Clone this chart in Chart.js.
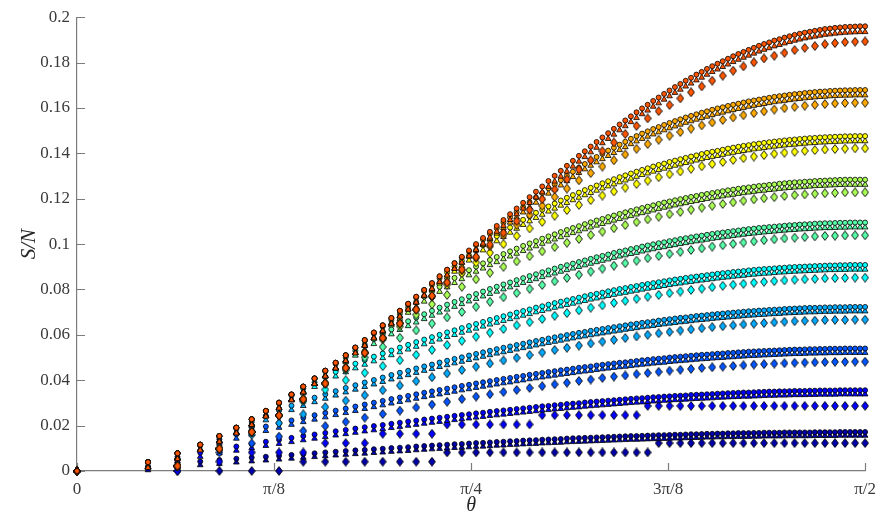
<!DOCTYPE html>
<html><head><meta charset="utf-8">
<script src="https://cdn.jsdelivr.net/npm/chart.js@4.4.1/dist/chart.umd.min.js"></script>
<style>html,body{margin:0;padding:0;background:#fff}#wrap{width:884px;height:520px}</style>
</head><body><div id="wrap"><canvas id="c" width="884" height="520"></canvas></div>
<script>
// theta grid (rad)
const theta = [0,.1415,.2003,.2456,.2838,.3176,.3482,.3764,.4027,.4275,
.4510,.4735,.4949,.5156,.5356,.5548,.5735,.5917,.6094,.6266,
.6435,.6600,.6761,.6920,.7075,.7227,.7377,.7525,.7670,.7813,
.7954,.8093,.8230,.8366,.8500,.8632,.8763,.8892,.9021,.9148,
.9273,.9397,.9521,.9643,.9764,.9884,1.0004,1.0122,1.0239,1.0356,
1.0472,1.0587,1.0701,1.0815,1.0928,1.1040,1.1152,1.1263,1.1374,1.1484,
1.1593,1.1702,1.1810,1.1918,1.2025,1.2132,1.2239,1.2345,1.2451,1.2556,
1.2661,1.2766,1.2870,1.2974,1.3078,1.3181,1.3284,1.3387,1.3490,1.3592,
1.3694,1.3796,1.3898,1.4000,1.4101,1.4202,1.4303,1.4404,1.4505,1.4606,
1.4706,1.4807,1.4907,1.5007,1.5108,1.5208,1.5308,1.5408,1.5508,1.5608,
1.5708];
const thetaEven = theta.filter((_, i) => i % 2 === 0);

const xTickValues = [0, Math.PI/8, Math.PI/4, 3*Math.PI/8, Math.PI/2];
const xTickLabels = ['0', 'π/8', 'π/4', '3π/8', 'π/2'];
const yTickValues = [0, .02, .04, .06, .08, .1, .12, .14, .16, .18, .2];
const yTickLabels = ['0', '0.02', '0.04', '0.06', '0.08', '0.1', '0.12', '0.14', '0.16', '0.18', '0.2'];
const seriesColors = ['#0000aa','#0000ff','#0055ff','#00aaff','#00ffff','#55ffaa','#aaff55','#ffff00','#ffaa00','#ff5500'];

// circles
const circles1 = [0,.0020,.0034,.0042,.0048,.0054,.0059,.0063,.0067,.0071,
.0075,.0078,.0082,.0085,.0088,.0091,.0093,.0096,.0098,.0101,
.0103,.0105,.0108,.0110,.0112,.0114,.0116,.0118,.0119,.0121,
.0123,.0124,.0126,.0128,.0129,.0131,.0132,.0134,.0135,.0136,
.0138,.0139,.0140,.0141,.0143,.0144,.0145,.0146,.0147,.0148,
.0149,.0150,.0151,.0152,.0153,.0154,.0154,.0155,.0156,.0157,
.0158,.0158,.0159,.0160,.0160,.0161,.0162,.0162,.0163,.0164,
.0164,.0165,.0165,.0166,.0166,.0167,.0167,.0167,.0168,.0168,
.0169,.0169,.0169,.0169,.0170,.0170,.0170,.0170,.0170,.0170,
.0171,.0171,.0171,.0171,.0171,.0172,.0172,.0172,.0172,.0172,
.0172];
const circles2 = [0,.0036,.0062,.0081,.0096,.0108,.0119,.0129,.0138,.0146,
.0154,.0161,.0168,.0175,.0181,.0187,.0193,.0198,.0203,.0208,
.0213,.0218,.0222,.0227,.0231,.0235,.0239,.0243,.0247,.0250,
.0254,.0257,.0261,.0264,.0267,.0270,.0273,.0276,.0279,.0282,
.0285,.0287,.0290,.0292,.0295,.0297,.0299,.0302,.0304,.0306,
.0308,.0310,.0312,.0314,.0316,.0318,.0320,.0321,.0323,.0325,
.0326,.0328,.0329,.0331,.0332,.0333,.0335,.0336,.0337,.0338,
.0339,.0341,.0342,.0343,.0344,.0345,.0346,.0346,.0347,.0348,
.0349,.0350,.0350,.0351,.0351,.0352,.0353,.0353,.0353,.0354,
.0354,.0355,.0355,.0355,.0355,.0356,.0356,.0356,.0356,.0356,
.0356];
const circles3 = [0,.0039,.0077,.0112,.0140,.0162,.0180,.0196,.0210,.0223,
.0235,.0246,.0256,.0266,.0275,.0284,.0293,.0301,.0309,.0317,
.0324,.0331,.0338,.0345,.0351,.0357,.0363,.0369,.0375,.0380,
.0386,.0391,.0396,.0401,.0406,.0410,.0415,.0419,.0424,.0428,
.0432,.0436,.0440,.0444,.0447,.0451,.0455,.0458,.0461,.0465,
.0468,.0471,.0474,.0477,.0479,.0482,.0485,.0488,.0490,.0493,
.0495,.0497,.0500,.0502,.0504,.0506,.0508,.0510,.0512,.0513,
.0515,.0517,.0518,.0520,.0521,.0523,.0524,.0526,.0527,.0528,
.0529,.0530,.0531,.0532,.0533,.0534,.0535,.0535,.0536,.0537,
.0537,.0538,.0538,.0539,.0539,.0539,.0540,.0540,.0540,.0540,
.0540];
const circles4 = [0,.0039,.0078,.0115,.0152,.0186,.0216,.0243,.0267,.0288,
.0306,.0323,.0338,.0352,.0366,.0378,.0390,.0401,.0412,.0423,
.0433,.0442,.0452,.0461,.0469,.0478,.0486,.0494,.0501,.0509,
.0516,.0523,.0530,.0537,.0543,.0549,.0555,.0561,.0567,.0573,
.0578,.0584,.0589,.0594,.0599,.0604,.0609,.0613,.0618,.0622,
.0626,.0630,.0634,.0638,.0642,.0646,.0649,.0653,.0656,.0659,
.0663,.0666,.0669,.0672,.0675,.0677,.0680,.0683,.0685,.0687,
.0690,.0692,.0694,.0696,.0698,.0700,.0702,.0704,.0705,.0707,
.0708,.0710,.0711,.0712,.0714,.0715,.0716,.0717,.0718,.0719,
.0719,.0720,.0721,.0721,.0722,.0722,.0722,.0723,.0723,.0723,
.0723];
const circles5 = [0,.0039,.0078,.0116,.0154,.0191,.0228,.0264,.0299,.0332,
.0363,.0391,.0415,.0437,.0456,.0473,.0489,.0504,.0518,.0531,
.0544,.0556,.0568,.0579,.0590,.0600,.0611,.0620,.0630,.0639,
.0648,.0657,.0666,.0674,.0682,.0690,.0698,.0705,.0712,.0720,
.0726,.0733,.0740,.0746,.0752,.0758,.0764,.0770,.0776,.0781,
.0786,.0792,.0797,.0802,.0806,.0811,.0815,.0820,.0824,.0828,
.0832,.0836,.0840,.0844,.0847,.0851,.0854,.0857,.0860,.0863,
.0866,.0869,.0872,.0874,.0877,.0879,.0881,.0884,.0886,.0888,
.0890,.0891,.0893,.0895,.0896,.0898,.0899,.0900,.0901,.0902,
.0903,.0904,.0905,.0906,.0906,.0907,.0907,.0908,.0908,.0908,
.0908];
const circles6 = [0,.0039,.0078,.0116,.0154,.0191,.0228,.0265,.0301,.0337,
.0371,.0406,.0439,.0472,.0501,.0530,.0556,.0581,.0603,.0624,
.0643,.0660,.0676,.0691,.0706,.0720,.0733,.0745,.0757,.0769,
.0780,.0791,.0802,.0812,.0822,.0831,.0841,.0850,.0859,.0867,
.0876,.0884,.0892,.0900,.0907,.0914,.0921,.0928,.0935,.0942,
.0948,.0954,.0961,.0967,.0972,.0978,.0983,.0989,.0994,.0999,
.1004,.1008,.1013,.1017,.1022,.1026,.1030,.1034,.1037,.1041,
.1045,.1048,.1051,.1054,.1057,.1060,.1063,.1066,.1068,.1071,
.1073,.1075,.1077,.1079,.1081,.1083,.1084,.1086,.1087,.1088,
.1090,.1091,.1092,.1092,.1093,.1094,.1094,.1095,.1095,.1095,
.1095];
const circles7 = [0,.0039,.0078,.0116,.0154,.0191,.0228,.0265,.0301,.0337,
.0372,.0408,.0442,.0477,.0510,.0542,.0574,.0606,.0636,.0665,
.0693,.0720,.0745,.0769,.0791,.0812,.0832,.0851,.0868,.0885,
.0901,.0915,.0930,.0943,.0956,.0968,.0980,.0992,.1003,.1013,
.1024,.1034,.1043,.1053,.1062,.1071,.1079,.1088,.1096,.1104,
.1111,.1119,.1126,.1133,.1140,.1146,.1153,.1159,.1165,.1171,
.1177,.1183,.1188,.1193,.1198,.1203,.1208,.1212,.1217,.1221,
.1225,.1229,.1233,.1237,.1240,.1244,.1247,.1250,.1253,.1256,
.1258,.1261,.1263,.1266,.1268,.1270,.1272,.1273,.1275,.1276,
.1278,.1279,.1280,.1281,.1282,.1283,.1284,.1284,.1284,.1284,
.1284];
const circles8 = [0,.0039,.0078,.0116,.0154,.0191,.0228,.0265,.0301,.0337,
.0372,.0408,.0442,.0477,.0510,.0544,.0577,.0610,.0642,.0674,
.0706,.0734,.0764,.0793,.0821,.0849,.0875,.0901,.0926,.0950,
.0973,.0995,.1016,.1035,.1054,.1073,.1090,.1107,.1123,.1138,
.1152,.1166,.1179,.1192,.1204,.1216,.1227,.1238,.1248,.1258,
.1268,.1277,.1286,.1295,.1303,.1311,.1319,.1327,.1334,.1342,
.1349,.1355,.1362,.1368,.1374,.1380,.1386,.1391,.1397,.1402,
.1407,.1411,.1416,.1421,.1425,.1429,.1433,.1436,.1440,.1443,
.1446,.1449,.1452,.1454,.1457,.1459,.1461,.1463,.1465,.1467,
.1468,.1470,.1471,.1472,.1473,.1474,.1475,.1475,.1476,.1476,
.1476];
const circles9 = [0,.0039,.0078,.0116,.0154,.0191,.0228,.0265,.0301,.0337,
.0372,.0408,.0442,.0477,.0510,.0544,.0577,.0610,.0642,.0674,
.0706,.0737,.0768,.0798,.0828,.0858,.0887,.0916,.0941,.0968,
.0995,.1020,.1046,.1070,.1095,.1118,.1141,.1163,.1185,.1206,
.1225,.1246,.1264,.1282,.1301,.1319,.1337,.1353,.1369,.1384,
.1398,.1412,.1425,.1438,.1451,.1464,.1476,.1487,.1497,.1507,
.1516,.1525,.1534,.1542,.1550,.1558,.1565,.1572,.1579,.1585,
.1592,.1598,.1603,.1609,.1614,.1619,.1624,.1629,.1633,.1637,
.1641,.1645,.1649,.1652,.1655,.1658,.1661,.1663,.1666,.1668,
.1670,.1672,.1673,.1675,.1676,.1677,.1678,.1678,.1679,.1679,
.1679];
const circles10 = [0,.0039,.0078,.0116,.0154,.0191,.0228,.0265,.0301,.0337,
.0372,.0408,.0442,.0477,.0510,.0544,.0577,.0610,.0642,.0674,
.0706,.0737,.0768,.0798,.0828,.0858,.0887,.0916,.0944,.0972,
.1000,.1027,.1054,.1080,.1106,.1132,.1157,.1182,.1207,.1231,
.1254,.1278,.1301,.1323,.1345,.1367,.1389,.1409,.1430,.1450,
.1470,.1489,.1508,.1527,.1545,.1563,.1581,.1598,.1614,.1631,
.1646,.1662,.1677,.1692,.1706,.1720,.1733,.1747,.1759,.1772,
.1784,.1795,.1806,.1817,.1828,.1838,.1847,.1856,.1865,.1874,
.1882,.1889,.1897,.1903,.1910,.1916,.1922,.1927,.1932,.1936,
.1940,.1944,.1948,.1950,.1953,.1955,.1957,.1958,.1959,.1960,
.1960];

// triangles
const triangles1 = [0,.0004,.0018,.0026,.0032,.0038,.0043,.0047,.0051,.0055,
.0059,.0062,.0066,.0069,.0072,.0075,.0077,.0080,.0082,.0085,
.0087,.0089,.0092,.0094,.0096,.0098,.0100,.0102,.0103,.0105,
.0107,.0108,.0110,.0112,.0113,.0115,.0116,.0118,.0119,.0120,
.0122,.0123,.0124,.0125,.0127,.0128,.0129,.0130,.0131,.0132,
.0133,.0134,.0135,.0136,.0137,.0138,.0138,.0139,.0140,.0141,
.0142,.0142,.0143,.0144,.0144,.0145,.0146,.0146,.0147,.0148,
.0148,.0149,.0149,.0150,.0150,.0151,.0151,.0151,.0152,.0152,
.0153,.0153,.0153,.0153,.0154,.0154,.0154,.0154,.0154,.0154,
.0155,.0155,.0155,.0155,.0155,.0156,.0156,.0156,.0156,.0156,
.0156];
const triangles2 = [0,.0018,.0044,.0063,.0078,.0090,.0101,.0111,.0120,.0128,
.0136,.0143,.0150,.0157,.0163,.0169,.0175,.0180,.0185,.0190,
.0195,.0200,.0204,.0209,.0213,.0217,.0221,.0225,.0229,.0232,
.0236,.0239,.0243,.0246,.0249,.0252,.0255,.0258,.0261,.0264,
.0267,.0269,.0272,.0274,.0277,.0279,.0281,.0284,.0286,.0288,
.0290,.0292,.0294,.0296,.0298,.0300,.0302,.0303,.0305,.0307,
.0308,.0310,.0311,.0313,.0314,.0315,.0317,.0318,.0319,.0320,
.0321,.0323,.0324,.0325,.0326,.0327,.0328,.0328,.0329,.0330,
.0331,.0332,.0332,.0333,.0333,.0334,.0335,.0335,.0335,.0336,
.0336,.0337,.0337,.0337,.0337,.0338,.0338,.0338,.0338,.0338,
.0338];
const triangles3 = [0,.0020,.0058,.0093,.0121,.0143,.0161,.0177,.0191,.0204,
.0216,.0227,.0237,.0247,.0256,.0265,.0274,.0282,.0290,.0298,
.0305,.0312,.0319,.0326,.0332,.0338,.0344,.0350,.0356,.0361,
.0367,.0372,.0377,.0382,.0387,.0391,.0396,.0400,.0405,.0409,
.0413,.0417,.0421,.0425,.0428,.0432,.0436,.0439,.0442,.0446,
.0449,.0452,.0455,.0458,.0460,.0463,.0466,.0469,.0471,.0474,
.0476,.0478,.0481,.0483,.0485,.0487,.0489,.0491,.0493,.0494,
.0496,.0498,.0499,.0501,.0502,.0504,.0505,.0507,.0508,.0509,
.0510,.0511,.0512,.0513,.0514,.0515,.0516,.0516,.0517,.0518,
.0518,.0519,.0519,.0520,.0520,.0520,.0521,.0521,.0521,.0521,
.0521];
const triangles4 = [0,.0020,.0059,.0096,.0133,.0167,.0197,.0224,.0248,.0269,
.0287,.0304,.0319,.0333,.0347,.0359,.0371,.0382,.0393,.0404,
.0414,.0423,.0433,.0442,.0450,.0459,.0467,.0475,.0482,.0490,
.0497,.0504,.0511,.0518,.0524,.0530,.0536,.0542,.0548,.0554,
.0559,.0565,.0570,.0575,.0580,.0585,.0590,.0594,.0599,.0603,
.0607,.0611,.0615,.0619,.0623,.0627,.0630,.0634,.0637,.0640,
.0644,.0647,.0650,.0653,.0656,.0658,.0661,.0664,.0666,.0668,
.0671,.0673,.0675,.0677,.0679,.0681,.0683,.0685,.0686,.0688,
.0689,.0691,.0692,.0693,.0695,.0696,.0697,.0698,.0699,.0700,
.0700,.0701,.0702,.0702,.0703,.0703,.0703,.0704,.0704,.0704,
.0704];
const triangles5 = [0,.0019,.0058,.0096,.0134,.0171,.0208,.0244,.0279,.0312,
.0343,.0371,.0395,.0417,.0436,.0453,.0469,.0484,.0498,.0511,
.0524,.0536,.0548,.0559,.0570,.0580,.0591,.0600,.0610,.0619,
.0628,.0637,.0646,.0654,.0662,.0670,.0678,.0685,.0692,.0700,
.0706,.0713,.0720,.0726,.0732,.0738,.0744,.0750,.0756,.0761,
.0766,.0772,.0777,.0782,.0786,.0791,.0795,.0800,.0804,.0808,
.0812,.0816,.0820,.0824,.0827,.0831,.0834,.0837,.0840,.0843,
.0846,.0849,.0852,.0854,.0857,.0859,.0861,.0864,.0866,.0868,
.0870,.0871,.0873,.0875,.0876,.0878,.0879,.0880,.0881,.0882,
.0883,.0884,.0885,.0886,.0886,.0887,.0887,.0888,.0888,.0888,
.0888];
const triangles6 = [0,.0018,.0057,.0095,.0133,.0170,.0207,.0244,.0280,.0316,
.0350,.0385,.0418,.0451,.0480,.0509,.0535,.0560,.0582,.0603,
.0622,.0639,.0655,.0670,.0685,.0699,.0712,.0724,.0736,.0748,
.0759,.0770,.0781,.0791,.0801,.0810,.0820,.0829,.0838,.0846,
.0855,.0863,.0871,.0879,.0886,.0893,.0900,.0907,.0914,.0921,
.0927,.0933,.0940,.0946,.0951,.0957,.0962,.0968,.0973,.0978,
.0983,.0987,.0992,.0996,.1001,.1005,.1009,.1013,.1016,.1020,
.1024,.1027,.1030,.1033,.1036,.1039,.1042,.1045,.1047,.1050,
.1052,.1054,.1056,.1058,.1060,.1062,.1063,.1065,.1066,.1067,
.1069,.1070,.1071,.1071,.1072,.1073,.1073,.1074,.1074,.1074,
.1074];
const triangles7 = [0,.0017,.0056,.0094,.0132,.0169,.0206,.0243,.0279,.0315,
.0350,.0386,.0420,.0455,.0488,.0520,.0552,.0584,.0614,.0643,
.0671,.0698,.0723,.0747,.0769,.0790,.0810,.0829,.0846,.0863,
.0879,.0893,.0908,.0921,.0934,.0946,.0958,.0970,.0981,.0991,
.1002,.1012,.1021,.1031,.1040,.1049,.1057,.1066,.1074,.1082,
.1089,.1097,.1104,.1111,.1118,.1124,.1131,.1137,.1143,.1149,
.1155,.1161,.1166,.1171,.1176,.1181,.1186,.1190,.1195,.1199,
.1203,.1207,.1211,.1215,.1218,.1222,.1225,.1228,.1231,.1234,
.1236,.1239,.1241,.1244,.1246,.1248,.1250,.1251,.1253,.1254,
.1256,.1257,.1258,.1259,.1260,.1261,.1262,.1262,.1262,.1262,
.1262];
const triangles8 = [0,.0017,.0056,.0094,.0132,.0169,.0206,.0243,.0279,.0315,
.0350,.0386,.0420,.0455,.0488,.0522,.0555,.0588,.0620,.0652,
.0684,.0712,.0742,.0771,.0799,.0827,.0853,.0879,.0904,.0928,
.0951,.0973,.0994,.1013,.1032,.1051,.1068,.1085,.1101,.1116,
.1130,.1144,.1157,.1170,.1182,.1194,.1205,.1216,.1226,.1236,
.1246,.1255,.1264,.1273,.1281,.1289,.1297,.1305,.1312,.1320,
.1327,.1333,.1340,.1346,.1352,.1358,.1364,.1369,.1375,.1380,
.1385,.1389,.1394,.1399,.1403,.1407,.1411,.1414,.1418,.1421,
.1424,.1427,.1430,.1432,.1435,.1437,.1439,.1441,.1443,.1445,
.1446,.1448,.1449,.1450,.1451,.1452,.1453,.1453,.1454,.1454,
.1454];
const triangles9 = [0,.0016,.0055,.0093,.0131,.0168,.0205,.0242,.0278,.0314,
.0349,.0385,.0419,.0454,.0487,.0521,.0554,.0587,.0619,.0651,
.0683,.0714,.0745,.0775,.0805,.0835,.0864,.0893,.0918,.0945,
.0972,.0997,.1023,.1047,.1072,.1095,.1118,.1140,.1162,.1183,
.1202,.1223,.1241,.1259,.1278,.1296,.1314,.1330,.1346,.1361,
.1375,.1389,.1402,.1415,.1428,.1441,.1453,.1464,.1474,.1484,
.1493,.1502,.1511,.1519,.1527,.1535,.1542,.1549,.1556,.1562,
.1569,.1575,.1580,.1586,.1591,.1596,.1601,.1606,.1610,.1614,
.1618,.1622,.1626,.1629,.1632,.1635,.1638,.1640,.1643,.1645,
.1647,.1649,.1650,.1652,.1653,.1654,.1655,.1655,.1656,.1656,
.1656];
const triangles10 = [0,.0014,.0053,.0091,.0129,.0166,.0203,.0240,.0276,.0312,
.0347,.0383,.0417,.0452,.0485,.0519,.0552,.0585,.0617,.0649,
.0681,.0712,.0743,.0773,.0803,.0833,.0862,.0891,.0919,.0947,
.0975,.1002,.1029,.1055,.1081,.1107,.1132,.1157,.1182,.1206,
.1229,.1253,.1276,.1298,.1320,.1342,.1364,.1384,.1405,.1425,
.1445,.1464,.1483,.1502,.1520,.1538,.1556,.1573,.1589,.1606,
.1621,.1637,.1652,.1667,.1681,.1695,.1708,.1722,.1734,.1747,
.1759,.1770,.1781,.1792,.1803,.1813,.1822,.1831,.1840,.1849,
.1857,.1864,.1872,.1878,.1885,.1891,.1897,.1902,.1907,.1911,
.1915,.1919,.1923,.1925,.1928,.1930,.1932,.1933,.1934,.1935,
.1935];

// diamonds (every second theta)
const diamonds1 = [0,0,0,0,0,.0041,.0041,.0041,.0041,.0041,.0041,.0041,.0041,
.0082,.0082,.0082,.0082,.0082,.0082,.0082,.0082,.0082,.0082,.0082,.0082,.0082,.0082,.0082,.0082,.0082,
.0123,.0123,.0123,.0123,.0123,.0123,.0123,.0123,.0123,.0123,.0123,.0123,.0123,.0123,.0123,.0123,.0123,.0123,.0123,.0123,.0123];
const diamonds2 = [0,0,.0041,.0082,.0082,.0082,.0123,.0123,.0123,.0164,.0164,
.0164,.0164,.0205,.0205,.0205,.0205,.0205,.0205,.0205,.0246,
.0246,.0246,.0246,.0246,.0246,.0246,.0246,.0246,.0287,.0287,
.0287,.0287,.0287,.0287,.0287,.0287,.0287,.0287,.0287,.0287,
.0287,.0287,.0287,.0287,.0287,.0287,.0287,.0287,.0287,.0287];
const diamonds3 = [0,.0019,.0082,.0122,.0152,.0177,.0198,.0217,.0235,.0251,.0266,
.0280,.0293,.0305,.0317,.0328,.0338,.0348,.0357,.0366,.0374,
.0382,.0389,.0397,.0403,.0410,.0416,.0421,.0427,.0432,.0437,
.0442,.0446,.0450,.0454,.0457,.0460,.0463,.0466,.0469,.0471,
.0473,.0475,.0477,.0478,.0479,.0480,.0481,.0481,.0482,.0482];
const diamonds4 = [0,.0022,.0096,.0160,.0211,.0250,.0282,.0310,.0334,.0356,.0377,
.0396,.0413,.0430,.0445,.0460,.0474,.0487,.0499,.0511,.0522,
.0533,.0543,.0553,.0562,.0570,.0578,.0586,.0593,.0600,.0607,
.0613,.0619,.0624,.0629,.0634,.0638,.0642,.0646,.0649,.0652,
.0655,.0658,.0660,.0662,.0663,.0665,.0666,.0666,.0667,.0667];
const diamonds5 = [0,.0022,.0098,.0172,.0243,.0307,.0359,.0400,.0433,.0462,.0488,
.0512,.0534,.0555,.0574,.0592,.0610,.0626,.0642,.0656,.0670,
.0684,.0696,.0708,.0720,.0730,.0741,.0750,.0759,.0768,.0776,
.0784,.0791,.0798,.0804,.0810,.0816,.0821,.0825,.0830,.0834,
.0837,.0840,.0843,.0845,.0847,.0849,.0850,.0851,.0852,.0852];
const diamonds6 = [0,.0022,.0098,.0172,.0245,.0315,.0383,.0445,.0500,.0547,.0587,
.0620,.0650,.0677,.0701,.0724,.0746,.0766,.0785,.0803,.0820,
.0836,.0851,.0865,.0879,.0892,.0905,.0916,.0927,.0938,.0948,
.0957,.0966,.0974,.0981,.0989,.0995,.1001,.1007,.1012,.1017,
.1021,.1025,.1028,.1031,.1034,.1036,.1037,.1038,.1039,.1039];
const diamonds7 = [0,.0022,.0098,.0172,.0245,.0316,.0386,.0454,.0518,.0580,.0637,
.0689,.0735,.0776,.0812,.0845,.0874,.0900,.0924,.0947,.0968,
.0987,.1006,.1023,.1040,.1055,.1070,.1084,.1097,.1109,.1121,
.1132,.1142,.1152,.1161,.1169,.1177,.1184,.1191,.1197,.1202,
.1207,.1212,.1216,.1219,.1222,.1224,.1226,.1228,.1228,.1228];
const diamonds8 = [0,.0024,.0100,.0174,.0247,.0318,.0388,.0456,.0523,.0588,.0652,
.0710,.0767,.0821,.0872,.0919,.0962,.1000,.1036,.1069,.1098,
.1125,.1150,.1173,.1194,.1214,.1232,.1249,.1265,.1280,.1295,
.1308,.1320,.1332,.1343,.1353,.1362,.1371,.1379,.1386,.1392,
.1398,.1403,.1407,.1411,.1414,.1417,.1419,.1421,.1422,.1422];
const diamonds9 = [0,.0022,.0098,.0172,.0245,.0316,.0386,.0454,.0521,.0586,.0650,
.0712,.0772,.0831,.0885,.0939,.0990,.1039,.1085,.1129,.1169,
.1208,.1245,.1281,.1313,.1342,.1369,.1395,.1420,.1441,.1460,
.1478,.1494,.1509,.1523,.1536,.1547,.1558,.1568,.1577,.1585,
.1593,.1599,.1605,.1610,.1614,.1617,.1620,.1622,.1623,.1623];
const diamonds10 = [0,.0022,.0098,.0172,.0245,.0316,.0386,.0454,.0521,.0586,.0650,
.0712,.0772,.0831,.0888,.0944,.0998,.1050,.1101,.1151,.1198,
.1241,.1285,.1329,.1370,.1410,.1448,.1485,.1521,.1554,.1586,
.1613,.1642,.1669,.1695,.1720,.1742,.1764,.1783,.1801,.1818,
.1830,.1843,.1855,.1865,.1873,.1881,.1886,.1890,.1892,.1893];

const circles = [circles1,circles2,circles3,circles4,circles5,circles6,circles7,circles8,circles9,circles10];
const triangles = [triangles1,triangles2,triangles3,triangles4,triangles5,triangles6,triangles7,triangles8,triangles9,triangles10];
const diamonds = [diamonds1,diamonds2,diamonds3,diamonds4,diamonds5,diamonds6,diamonds7,diamonds8,diamonds9,diamonds10];

const SERIF = "'Liberation Serif', 'DejaVu Serif', 'Times New Roman', serif";

function diamondMarker(fill) {
  const w = 8, h = 10;
  const cv = document.createElement('canvas');
  cv.width = w; cv.height = h;
  const g = cv.getContext('2d');
  g.beginPath();
  g.moveTo(w / 2, 0.6); g.lineTo(w - 0.6, h / 2); g.lineTo(w / 2, h - 0.6); g.lineTo(0.6, h / 2);
  g.closePath();
  g.fillStyle = fill; g.fill();
  g.lineWidth = 0.9; g.strokeStyle = '#000'; g.stroke();
  return cv;
}

const layers = [];
for (let k = 0; k < seriesColors.length; k++) {
  const col = seriesColors[k];
  layers.push({
    label: 'diamonds' + (k + 1),
    data: thetaEven.map((x, i) => ({x, y: diamonds[k][i]})),
    showLine: false, clip: false,
    pointStyle: diamondMarker(col), pointRadius: 4,
    pointBackgroundColor: col, pointBorderColor: '#000', pointBorderWidth: 0.9
  });
  layers.push({
    label: 'triangles' + (k + 1),
    data: theta.map((x, i) => ({x, y: triangles[k][i]})),
    showLine: false, clip: false,
    pointStyle: 'triangle', pointRadius: 3.3,
    pointBackgroundColor: col, pointBorderColor: '#000', pointBorderWidth: 0.8
  });
  layers.push({
    label: 'circles' + (k + 1),
    data: theta.map((x, i) => ({x, y: circles[k][i]})),
    showLine: false, clip: false,
    pointStyle: 'circle', pointRadius: 2.5,
    pointBackgroundColor: col, pointBorderColor: '#000', pointBorderWidth: 0.8
  });
}
// Chart.js draws dataset 0 on top: reverse so the last layer is on top
const datasets = layers.slice().reverse();

const inwardTicks = {
  id: 'inwardTicks',
  beforeDatasetsDraw(chart) {
    const {ctx, chartArea: a, scales: {x, y}} = chart;
    ctx.save();
    ctx.strokeStyle = '#7c7c7c';
    ctx.lineWidth = 1.2;
    ctx.beginPath();
    x.ticks.forEach(t => { const p = Math.round(x.getPixelForValue(t.value)) + 0.5; ctx.moveTo(p, a.bottom); ctx.lineTo(p, a.bottom - 8); });
    y.ticks.forEach(t => { const p = Math.round(y.getPixelForValue(t.value)) + 0.5; ctx.moveTo(a.left, p); ctx.lineTo(a.left + 8, p); });
    ctx.stroke();
    ctx.restore();
  }
};

new Chart(document.getElementById('c'), {
  type: 'scatter',
  data: {datasets},
  plugins: [inwardTicks],
  options: {
    responsive: false, animation: false, events: [],
    layout: {padding: {left: 0, right: 16, top: 16, bottom: 0}},
    plugins: {legend: {display: false}, tooltip: {enabled: false}},
    scales: {
      x: {
        type: 'linear', position: 'bottom', min: 0, max: Math.PI / 2,
        afterBuildTicks: ax => { ax.ticks = xTickValues.map(v => ({value: v})); },
        afterFit: ax => { ax.height = 49; },
        grid: {display: true, drawOnChartArea: false, drawTicks: false},
        border: {display: true, color: '#7c7c7c', width: 1.2},
        ticks: {autoSkip: false, maxRotation: 0, padding: 8, color: '#3a3a3a',
                font: {family: SERIF, size: 17}, callback: (v, i) => xTickLabels[i]},
        title: {display: true, text: 'θ', color: '#262626',
                font: {family: SERIF, size: 20, style: 'italic'}, padding: {top: 0, bottom: 2}}
      },
      y: {
        type: 'linear', position: 'left', min: 0, max: 0.2,
        afterBuildTicks: ax => { ax.ticks = yTickValues.map(v => ({value: v})); },
        afterFit: ax => { ax.width = 77; },
        grid: {display: true, drawOnChartArea: false, drawTicks: false},
        border: {display: true, color: '#7c7c7c', width: 1.2},
        ticks: {padding: 7, color: '#3a3a3a', font: {family: SERIF, size: 17},
                callback: (v, i) => yTickLabels[i]},
        title: {display: true, text: 'S/N', color: '#262626',
                font: {family: SERIF, size: 21, style: 'italic'}, padding: {top: 17, bottom: 0}}
      }
    }
  }
});
</script>
</body></html>
